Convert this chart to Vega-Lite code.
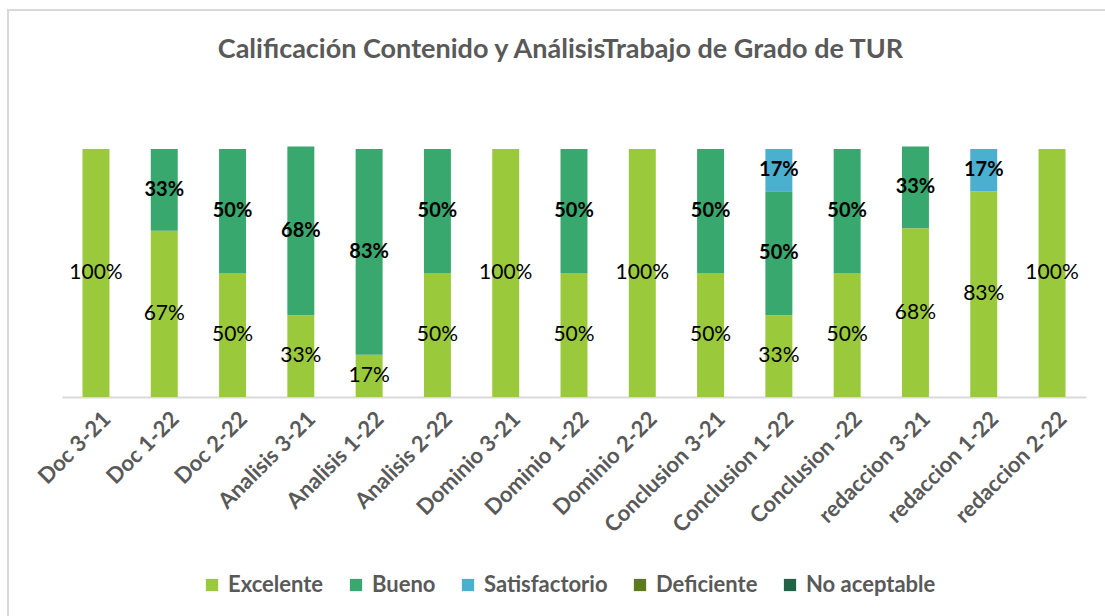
{
  "$schema": "https://vega.github.io/schema/vega-lite/v6.json",
  "autosize": {"type": "none"},
  "padding": {"left": 8, "top": 10, "right": -8, "bottom": -8},
  "width": 1105,
  "height": 614,
  "background": "white",
  "config": {"view": {"stroke": "#d9d9d9", "strokeWidth": 2}, "font": "Lato"},
  "title": {
    "text": "Calificación Contenido y AnálisisTrabajo de Grado de TUR",
    "font": "Lato", "fontSize": 27, "fontWeight": "bold", "color": "#595959",
    "anchor": "middle", "frame": "group", "offset": -54
  },
  "data": {"values": [
    {"item": "Doc 3-21", "cat": "Excelente", "value": 1.0},
    {"item": "Doc 1-22", "cat": "Excelente", "value": 0.67},
    {"item": "Doc 1-22", "cat": "Bueno", "value": 0.33},
    {"item": "Doc 2-22", "cat": "Excelente", "value": 0.5},
    {"item": "Doc 2-22", "cat": "Bueno", "value": 0.5},
    {"item": "Analisis 3-21", "cat": "Excelente", "value": 0.33},
    {"item": "Analisis 3-21", "cat": "Bueno", "value": 0.68},
    {"item": "Analisis 1-22", "cat": "Excelente", "value": 0.17},
    {"item": "Analisis 1-22", "cat": "Bueno", "value": 0.83},
    {"item": "Analisis 2-22", "cat": "Excelente", "value": 0.5},
    {"item": "Analisis 2-22", "cat": "Bueno", "value": 0.5},
    {"item": "Dominio 3-21", "cat": "Excelente", "value": 1.0},
    {"item": "Dominio 1-22", "cat": "Excelente", "value": 0.5},
    {"item": "Dominio 1-22", "cat": "Bueno", "value": 0.5},
    {"item": "Dominio 2-22", "cat": "Excelente", "value": 1.0},
    {"item": "Conclusion 3-21", "cat": "Excelente", "value": 0.5},
    {"item": "Conclusion 3-21", "cat": "Bueno", "value": 0.5},
    {"item": "Conclusion 1-22", "cat": "Excelente", "value": 0.33},
    {"item": "Conclusion 1-22", "cat": "Bueno", "value": 0.5},
    {"item": "Conclusion 1-22", "cat": "Satisfactorio", "value": 0.17},
    {"item": "Conclusion -22", "cat": "Excelente", "value": 0.5},
    {"item": "Conclusion -22", "cat": "Bueno", "value": 0.5},
    {"item": "redaccion 3-21", "cat": "Excelente", "value": 0.68},
    {"item": "redaccion 3-21", "cat": "Bueno", "value": 0.33},
    {"item": "redaccion 1-22", "cat": "Excelente", "value": 0.83},
    {"item": "redaccion 1-22", "cat": "Satisfactorio", "value": 0.17},
    {"item": "redaccion 2-22", "cat": "Excelente", "value": 1.0}
  ]},
  "transform": [
    {"calculate": "indexof(['Excelente','Bueno','Satisfactorio','Deficiente','No aceptable'], datum.cat)", "as": "ord"},
    {"stack": "value", "groupby": ["item"], "sort": [{"field": "ord", "order": "ascending"}], "as": ["v0", "v1"]},
    {"calculate": "(datum.v0 + datum.v1) / 2", "as": "mid"}
  ],
  "encoding": {
    "x": {
      "field": "item", "type": "nominal",
      "sort": ["Doc 3-21", "Doc 1-22", "Doc 2-22", "Analisis 3-21", "Analisis 1-22", "Analisis 2-22", "Dominio 3-21", "Dominio 1-22", "Dominio 2-22", "Conclusion 3-21", "Conclusion 1-22", "Conclusion -22", "redaccion 3-21", "redaccion 1-22", "redaccion 2-22"],
      "scale": {"range": [54, 1078], "paddingInner": 0.605, "paddingOuter": 0.3},
      "axis": {
        "title": null, "labelAngle": -45, "labelAlign": "right", "labelBaseline": "top",
        "labelPadding": 11, "labelOffset": 4, "ticks": false, "domainColor": "#d9d9d9", "domainWidth": 2,
        "labelFont": "Lato", "labelFontSize": 22, "labelFontWeight": "bold", "labelColor": "#595959",
        "labelOverlap": false, "labelLimit": 400, "offset": -227, "grid": false
      }
    }
  },
  "layer": [
    {
      "mark": {"type": "bar"},
      "encoding": {
        "y": {"field": "v0", "type": "quantitative", "scale": {"domain": [0, 1], "range": [387, 139], "nice": false, "zero": false}, "axis": null},
        "y2": {"field": "v1"},
        "color": {
          "field": "cat", "type": "nominal",
          "scale": {"domain": ["Excelente", "Bueno", "Satisfactorio", "Deficiente", "No aceptable"], "range": ["#9aca3c", "#38a86f", "#4bafd0", "#5e7a1e", "#1f6446"]},
          "legend": {
            "orient": "none", "legendX": 193, "legendY": 564, "direction": "horizontal", "title": null,
            "symbolType": "square", "symbolSize": 150, "symbolStrokeWidth": 0, "symbolOpacity": 1,
            "labelFont": "Lato", "labelFontSize": 22, "labelFontWeight": "bold", "labelColor": "#595959",
            "columnPadding": 21, "labelOffset": 5, "padding": 0
          }
        }
      }
    },
    {
      "transform": [{"filter": "datum.cat === 'Excelente'"}],
      "mark": {"type": "text", "font": "Lato", "fontSize": 21, "color": "#000000"},
      "encoding": {
        "y": {"field": "mid", "type": "quantitative"},
        "text": {"field": "value", "type": "quantitative", "format": ".0%"}
      }
    },
    {
      "transform": [{"filter": "datum.cat !== 'Excelente'"}],
      "mark": {"type": "text", "font": "Lato", "fontSize": 20, "fontWeight": "bold", "color": "#000000"},
      "encoding": {
        "y": {"field": "mid", "type": "quantitative"},
        "text": {"field": "value", "type": "quantitative", "format": ".0%"}
      }
    }
  ]
}
